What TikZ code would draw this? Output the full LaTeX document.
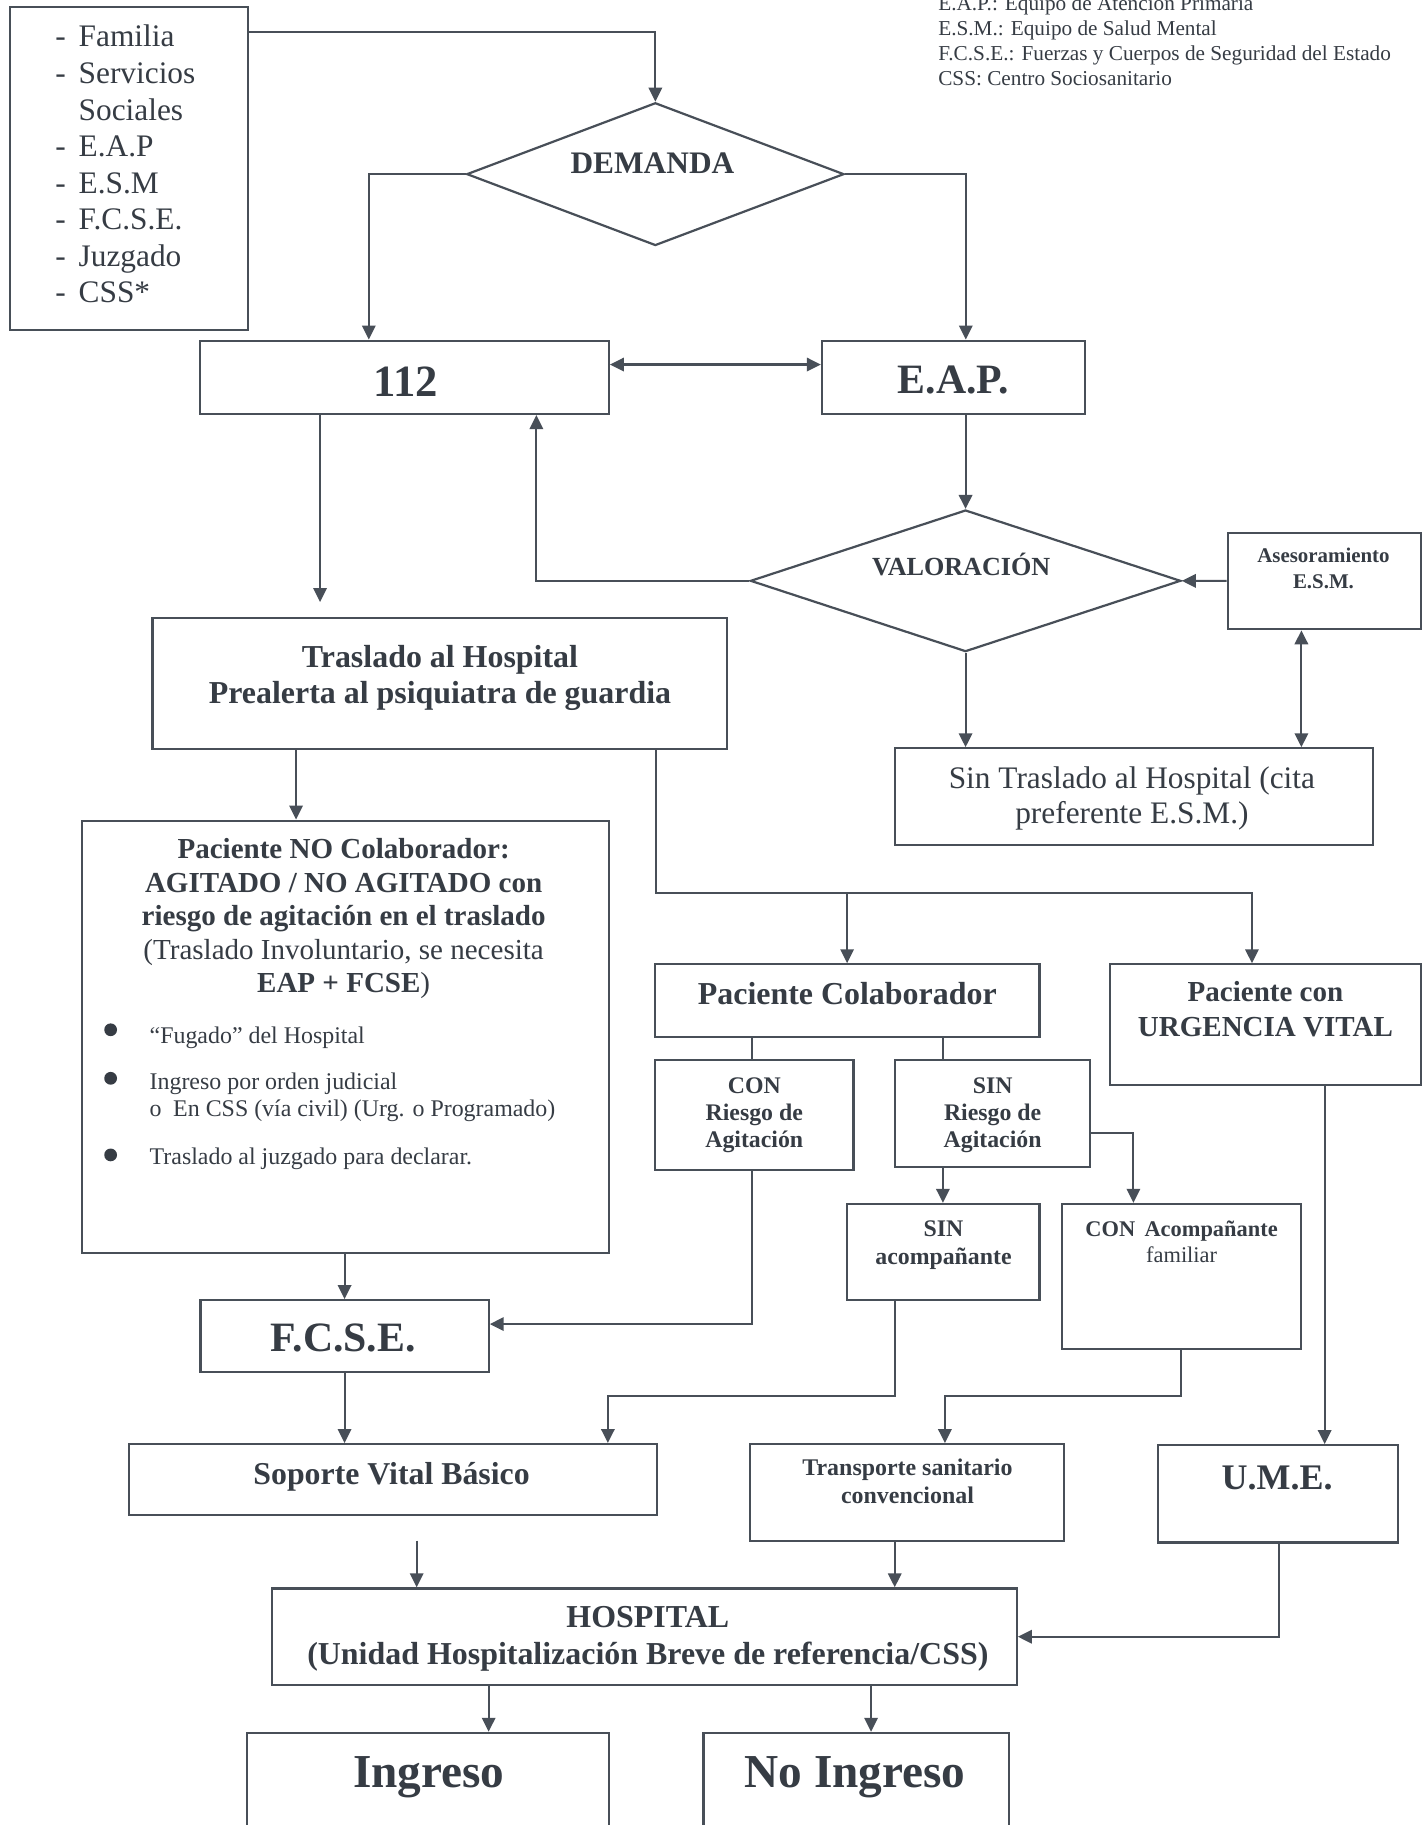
\documentclass[tikz,border=0pt]{standalone}
\usepackage{fontspec}
\setmainfont{Liberation Serif}
\usetikzlibrary{positioning,shapes.geometric,arrows.meta}
\definecolor{trazo}{RGB}{72,79,88}
\definecolor{letra}{RGB}{54,60,68}
\newcommand{\tam}[2]{\fontsize{#1}{#2}\selectfont}
\newcommand{\guion}{-\hspace{11pt}}

\begin{document}
\begin{tikzpicture}[x=1pt,y=-1pt,
  caja/.style={draw=trazo, line width=1.9pt, inner sep=0},
  rombo/.style={draw=trazo, line width=1.9pt, diamond, inner sep=0},
  texto/.style={inner sep=0, text=letra},
  vineta/.style={texto, anchor=base west, font=\tam{20.6}{24}},
  flecha/.style={draw=trazo, line width=1.8pt, -{Triangle[length=12pt,width=11.5pt]}},
  dflecha/.style={draw=trazo, line width=1.8pt, {Triangle[length=12pt,width=11.5pt]}-{Triangle[length=12pt,width=11.5pt]}},
  linea/.style={draw=trazo, line width=1.8pt},
  punto/.style={circle, fill=letra, inner sep=0, minimum size=11pt}]

\useasboundingbox (0,0) rectangle (1230,1572);
\clip (0,0) rectangle (1230,1572);
\fill[white] (0,0) rectangle (1230,1572);

% leyenda
\node[texto, anchor=north west, align=left, font=\tam{18.3}{21.5}] (leyenda) at (808,-3.9) {E.A.P.: Equipo de Atención Primaria\\ E.S.M.: Equipo de Salud Mental\\ F.C.S.E.: Fuerzas y Cuerpos de Seguridad del Estado\\ CSS: Centro Sociosanitario};

% origen de la demanda
\node[caja, minimum width=205.2, minimum height=277.9] (fuentes) at (111.2,145.3) {};
\node[texto, anchor=north west, align=left, font=\tam{27}{31.5}] (fuentes-t) at (47.6,21.5) {\guion Familia\\ \guion Servicios\\ \phantom{\guion}Sociales\\ \guion E.A.P\\ \guion E.S.M\\ \guion F.C.S.E.\\ \guion Juzgado\\ \guion CSS*};

\node[rombo, minimum width=325, minimum height=123] (demanda) at (564.5,150) {};
\node[texto, anchor=base, font=\bfseries\tam{27}{32}] (demanda-t) at (562,149.3) {DEMANDA};

\node[caja, minimum width=352, minimum height=63.2] (b112) at (348.4,325) {};
\node[texto, anchor=base, font=\bfseries\tam{38.5}{40}] (b112-t) at (349.7,341.7) {112};
\node[caja, minimum width=226.6, minimum height=63.2] (eap) at (821.3,325) {};
\node[texto, anchor=base, font=\bfseries\tam{36}{40}] (eap-t) at (821.2,338.8) {E.A.P.};

% valoracion
\node[rombo, minimum width=370.7, minimum height=122] (valoracion) at (831.7,500.3) {};
\node[texto, anchor=base, font=\bfseries\tam{22.5}{26}] (valoracion-t) at (828,495.3) {VALORACIÓN};
\node[caja, minimum width=166.3, minimum height=83.2] (asesor) at (1140.6,500.4) {};
\node[texto, align=center, font=\bfseries\tam{18}{22}] (asesor-t) at (1140,489.7) {Asesoramiento\\E.S.M.};
\node[caja, minimum width=411.9, minimum height=83.3] (sintras) at (976.7,686.2) {};
\node[texto, align=center, font=\tam{27}{30}] (sintras-t) at (975,688) {Sin Traslado al Hospital (cita\\preferente E.S.M.)};

\node[caja, minimum width=494.6, minimum height=112.5] (traslado) at (378.7,588.8) {};
\node[texto, align=center, font=\bfseries\tam{27.5}{31.5}] (traslado-t) at (379,584) {Traslado al Hospital\\Prealerta al psiquiatra de guardia};

% paciente no colaborador
\node[caja, minimum width=453.8, minimum height=372.6] (nocolab) at (297.5,893.2) {};
\node[texto, align=center, font=\bfseries\tam{25}{28.9}] (nocolab-t) at (296,791.5) {Paciente NO Colaborador:\\AGITADO / NO AGITADO con\\riesgo de agitación en el traslado\\{\mdseries (Traslado Involuntario, se necesita}\\EAP + FCSE{\mdseries )}};
\node[punto] (punto1) at (95.3,887) {};
\node[punto] (punto2) at (95.3,928.8) {};
\node[punto] (punto3) at (95.3,994.8) {};
\node[vineta] (fugado) at (128.7,898.6) {“Fugado” del Hospital};
\node[vineta] (orden) at (128.7,938.8) {Ingreso por orden judicial};
\node[vineta] (css) at (128.7,961.8) {o\hspace{10pt}En CSS (vía civil) (Urg. o Programado)};
\node[vineta] (juzgado) at (128.7,1003.4) {Traslado al juzgado para declarar.};

% paciente colaborador
\node[caja, minimum width=331.3, minimum height=62.4] (colab) at (729.7,861.8) {};
\node[texto, anchor=base, font=\bfseries\tam{27.5}{30}] (colab-t) at (729.8,865.6) {Paciente Colaborador};
\node[caja, minimum width=268.1, minimum height=103.9] (urgencia) at (1090,882.6) {};
\node[texto, align=center, font=\bfseries\tam{25}{30.2}] (urgencia-t) at (1090,869.4) {Paciente con\\URGENCIA VITAL};
\node[caja, minimum width=171.2, minimum height=94.8] (conriesgo) at (649.6,960.4) {};
\node[texto, align=center, font=\bfseries\tam{20.5}{23.65}] (conriesgo-t) at (649.7,960.6) {CON\\Riesgo de\\Agitación};
\node[caja, minimum width=168, minimum height=92.4] (sinriesgo) at (854.7,959.2) {};
\node[texto, align=center, font=\bfseries\tam{20.5}{23.65}] (sinriesgo-t) at (855,960.6) {SIN\\Riesgo de\\Agitación};
\node[caja, minimum width=165.7, minimum height=82.7] (sinacomp) at (812.5,1078.4) {};
\node[texto, align=center, font=\bfseries\tam{20.5}{24.4}] (sinacomp-t) at (812.7,1072.7) {SIN\\acompañante};
\node[caja, minimum width=205.7, minimum height=124.7] (conacomp) at (1017.6,1099.4) {};
\node[texto, align=center, font=\bfseries\tam{19.3}{23}] (conacomp-t) at (1017.8,1069.7) {CON\hspace{8pt}Acompañante\\{\mdseries familiar}};

% traslado
\node[caja, minimum width=248.3, minimum height=61.7] (fcse) at (296.8,1150.8) {};
\node[texto, anchor=base, font=\bfseries\tam{36}{40}] (fcse-t) at (295.7,1164) {F.C.S.E.};
\node[caja, minimum width=454.6, minimum height=61.2] (soporte) at (338.3,1274.5) {};
\node[texto, anchor=base, font=\bfseries\tam{27.4}{30}] (soporte-t) at (337.3,1278.6) {Soporte Vital Básico};
\node[caja, minimum width=269.9, minimum height=83.7] (transporte) at (781.3,1285.8) {};
\node[texto, align=center, font=\bfseries\tam{20.6}{23.5}] (transporte-t) at (781.7,1276) {Transporte sanitario\\convencional};
\node[caja, minimum width=206.6, minimum height=83.8] (ume) at (1100.7,1286.7) {};
\node[texto, anchor=base, font=\bfseries\tam{31}{36}] (ume-t) at (1100,1283) {U.M.E.};

% hospital
\node[caja, minimum width=641.6, minimum height=83.2] (hospital) at (555,1409.8) {};
\node[texto, align=center, font=\bfseries\tam{27.5}{31.7}] (hospital-t) at (558,1411.9) {HOSPITAL\\(Unidad Hospitalización Breve de referencia/CSS)};
\node[caja, minimum width=311.4, minimum height=140] (ingreso) at (368.7,1562.6) {};
\node[texto, anchor=base, font=\bfseries\tam{40.7}{44}] (ingreso-t) at (369.3,1539.5) {Ingreso};
\node[caja, minimum width=263, minimum height=140] (noingreso) at (737.5,1562.6) {};
\node[texto, anchor=base, font=\bfseries\tam{40.7}{44}] (noingreso-t) at (736.6,1539.5) {No Ingreso};

% conexiones
\coordinate (ramal) at (729.7,768.9);
\coordinate (codo1) at (523.6,1202.8);
\coordinate (codo2) at (813.9,1202.8);

\draw[flecha] (fuentes.east |- 0,27.3) -| (demanda.north);
\draw[flecha] (demanda.west) -| (b112.north -| 317.7,0);
\draw[flecha] (demanda.east) -| (eap.north -| 831.9,0);
\draw[dflecha] (b112.east |- 0,314) -- (eap.west |- 0,314);
\draw[flecha, shorten >=13pt] (b112.south -| 275.7,0) -- (traslado.north -| 275.7,0);
\draw[flecha] (valoracion.west) -| (b112.south -| 462,0);
\draw[flecha] (eap.south -| valoracion.north) -- (valoracion.north);
\draw[flecha] (asesor.west) -- (valoracion.east);
\draw[flecha] (valoracion.south) -- (sintras.north -| valoracion.south);
\draw[dflecha] (asesor.south -| 1121,0) -- (sintras.north -| 1121,0);

\draw[flecha] (traslado.south -| 255,0) -- (nocolab.north -| 255,0);
\draw[flecha] (traslado.south -| 564.8,0) |- (ramal) -| (urgencia.north -| 1078.4,0);
\draw[flecha] (ramal) -- (colab.north);
\draw[linea] (colab.south -| 647.4,0) -- (conriesgo.north -| 647.4,0);
\draw[linea] (colab.south -| 812.2,0) -- (sinriesgo.north -| 812.2,0);
\draw[flecha] (sinriesgo.south -| 812.2,0) -- (sinacomp.north -| 812.2,0);
\draw[flecha] (sinriesgo.east |- 0,975.6) -| (conacomp.north -| 976.3,0);
\draw[flecha] (conriesgo.south -| 647.4,0) |- (fcse.east |- 0,1140.5);
\draw[flecha] (nocolab.south -| fcse.north) -- (fcse.north);
\draw[flecha] (fcse.south) -- (soporte.north -| fcse.south);
\draw[flecha] (sinacomp.south -| 770.7,0) |- (codo1) -- (soporte.north -| codo1);
\draw[flecha] (conacomp.south -| 1017,0) |- (codo2) -- (transporte.north -| codo2);
\draw[flecha] (urgencia.south -| 1141,0) -- (ume.north -| 1141,0);

\draw[flecha, shorten <=21pt] (soporte.south -| 358.9,0) -- (hospital.north -| 358.9,0);
\draw[flecha] (transporte.south -| 770.7,0) -- (hospital.north -| 770.7,0);
\draw[flecha] (ume.south -| 1101.4,0) |- (hospital.east);
\draw[flecha] (hospital.south -| 420.9,0) -- (ingreso.north -| 420.9,0);
\draw[flecha] (hospital.south -| 750.3,0) -- (noingreso.north -| 750.3,0);
\end{tikzpicture}
\end{document}
